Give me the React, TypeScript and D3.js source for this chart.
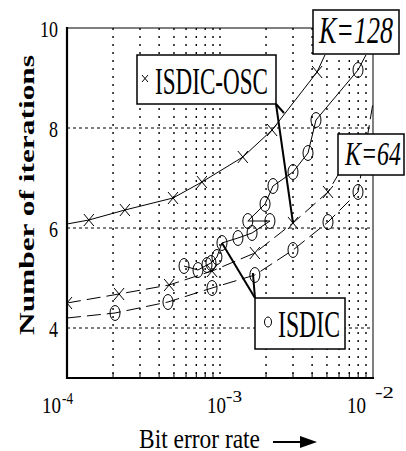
import React from 'react';
import * as d3 from 'd3';

// K=128, ISDIC-OSC (solid line, x markers)
const osc128Ber = [1.0e-4, 1.39e-4, 2.39e-4, 4.93e-4, 7.62e-4, 1.41e-3, 2.19e-3, 4.31e-3, 4.85e-3];
const osc128Iter = [6.08, 6.16, 6.36, 6.6, 6.92, 7.42, 7.96, 9.12, 9.46];
const osc128Unmarked = [0, 8];

// K=128, ISDIC (solid line, circle markers)
const isdic128Ber = [5.82e-4, 7.18e-4, 8.22e-4, 8.73e-4, 9.55e-4, 1.03e-3, 1.31e-3, 1.62e-3, 2.12e-3, 1.52e-3, 1.97e-3, 2.22e-3, 3.0e-3, 3.76e-3, 4.24e-3, 7.98e-3, 8.99e-3];
const isdic128Iter = [5.24, 5.16, 5.26, 5.3, 5.42, 5.7, 5.8, 5.9, 6.14, 6.14, 6.48, 6.84, 7.12, 7.5, 8.16, 9.16, 9.46];
const isdic128Unmarked = [16];

// K=64, ISDIC-OSC (dashed line, x markers)
const osc64Ber = [1.0e-4, 2.19e-4, 4.65e-4, 8.87e-4, 1.69e-3, 3.0e-3, 5.08e-3, 5.9e-3];
const osc64Iter = [4.5, 4.68, 4.86, 5.14, 5.5, 6.1, 6.72, 7.06];
const osc64Unmarked = [7];

// K=64, ISDIC (dashed line, circle markers)
const isdic64Ber = [1.0e-4, 2.06e-4, 4.57e-4, 8.87e-4, 1.69e-3, 3.0e-3, 5.08e-3, 7.98e-3, 1.0e-2];
const isdic64Iter = [4.2, 4.3, 4.52, 4.8, 5.06, 5.56, 6.12, 6.72, 8.5];
const isdic64Unmarked = [0, 8];

const yTicks = [4, 6, 8, 10];
const xTickExp = ['-4', '-3', '-2'];

const FONT = "'Liberation Serif', Tinos, 'Times New Roman', Times, 'DejaVu Serif', serif";

type Pt = [number, number];
const zip = (a: number[], b: number[]): Pt[] => a.map((v, i) => [v, b[i]]);

export default function App() {
  const x = d3.scaleLog().domain([1e-4, 1e-2]).range([67, 373]);
  const y = d3.scaleLinear().domain([3, 10]).range([378, 28]);
  const line = d3.line<Pt>().x(d => x(d[0])).y(d => y(d[1]));

  const minor: number[] = [];
  [-4, -3].forEach(k => {
    for (let m = 2; m <= 9; m++) minor.push(m * Math.pow(10, k));
  });
  const vGrid = [...minor, 1e-3];

  const series = [
    { pts: zip(osc128Ber, osc128Iter), skip: osc128Unmarked, mark: 'x', dash: undefined },
    { pts: zip(isdic128Ber, isdic128Iter), skip: isdic128Unmarked, mark: 'o', dash: undefined },
    { pts: zip(osc64Ber, osc64Iter), skip: osc64Unmarked, mark: 'x', dash: '14,6' },
    { pts: zip(isdic64Ber, isdic64Iter), skip: isdic64Unmarked, mark: 'o', dash: '14,6' },
  ];

  const xLab = [
    { base: -25, exp: -5, expY: 404, w: 11 },
    { base: -13, exp: 6, expY: 402, w: 16 },
    { base: -26, exp: 2, expY: 398, w: 19 },
  ];

  // leader line targets
  const oscTip: Pt = [x(osc64Ber[5]), y(osc64Iter[5])];
  const isdicTip: Pt = [x(isdic128Ber[5]), y(isdic128Iter[5])];
  const isdic64Tip: Pt = [x(isdic64Ber[4]) - 2, y(isdic64Iter[4]) - 2];

  const txt = { fontFamily: FONT };

  return (
    <svg width={406} height={451} style={{ position: 'absolute', left: 0, top: 0, background: '#fff', fontFamily: FONT }}>
      <defs>
        <clipPath id="plot">
          <rect x={67} y={28} width={306} height={350} />
        </clipPath>
      </defs>

      {/* grid */}
      {vGrid.map((v, i) => (
        <line key={'v' + i} x1={x(v)} x2={x(v)} y1={28} y2={378} stroke="#000"
          strokeWidth={1.4} strokeDasharray="2,6" />
      ))}
      {yTicks.filter(t => t < 10).map(t => (
        <line key={'h' + t} x1={67} x2={373} y1={y(t)} y2={y(t)} stroke="#000"
          strokeWidth={1} strokeDasharray="3,3" />
      ))}
      {minor.map((v, i) => (
        <line key={'t' + i} x1={x(v)} x2={x(v)} y1={378} y2={373} stroke="#000" strokeWidth={1} />
      ))}

      {/* frame */}
      <line x1={67} x2={373} y1={28} y2={28} stroke="#000" strokeWidth={1} />
      <line x1={373} x2={373} y1={28} y2={378} stroke="#000" strokeWidth={1} />
      <line x1={67} x2={67} y1={27} y2={379} stroke="#000" strokeWidth={2.2} />
      <line x1={66} x2={374} y1={378} y2={378} stroke="#000" strokeWidth={2.2} />

      {/* curves */}
      <g clipPath="url(#plot)">
        {series.map((s, i) => (
          <g key={i}>
            <path d={line(s.pts) || ''} fill="none" stroke="#000" strokeWidth={1}
              strokeDasharray={s.dash} />
            {s.pts.map((p, j) => {
              if (s.skip.includes(j)) return null;
              const cx = x(p[0]);
              const cy = y(p[1]);
              return s.mark === 'x' ? (
                <path key={j} d={`M${cx - 5},${cy - 6}L${cx + 5},${cy + 6}M${cx - 5},${cy + 6}L${cx + 5},${cy - 6}`}
                  stroke="#000" strokeWidth={1} fill="none" />
              ) : (
                <ellipse key={j} cx={cx} cy={cy} rx={5} ry={7.5} stroke="#000" strokeWidth={1} fill="none" />
              );
            })}
          </g>
        ))}
      </g>

      {/* leader lines */}
      <line x1={276} y1={104} x2={oscTip[0]} y2={oscTip[1]} stroke="#000" strokeWidth={2} />
      <line x1={276} y1={104} x2={284} y2={113} stroke="#000" strokeWidth={2} />
      <line x1={255} y1={298} x2={isdicTip[0]} y2={isdicTip[1]} stroke="#000" strokeWidth={2} />
      <line x1={255} y1={298} x2={isdic64Tip[0]} y2={isdic64Tip[1]} stroke="#000" strokeWidth={2} />

      {/* label boxes */}
      <rect x={137} y={55} width={139} height={49} fill="#fff" stroke="#000" strokeWidth={1.5} />
      <path d="M142,75L148,82M142,82L148,75" stroke="#000" strokeWidth={1} />
      <text style={txt} x={155} y={94} fontSize={38} textLength={113} lengthAdjust="spacingAndGlyphs">ISDIC-OSC</text>

      <rect x={313} y={10} width={86} height={44} fill="#fff" stroke="#000" strokeWidth={1.5} />
      <text style={txt} x={319} y={43} fontSize={37} fontStyle="italic" textLength={74} lengthAdjust="spacingAndGlyphs">K=128</text>

      <rect x={338} y={134} width={66} height={41} fill="#fff" stroke="#000" strokeWidth={1.5} />
      <text style={txt} x={345} y={165} fontSize={34} fontStyle="italic" textLength={56} lengthAdjust="spacingAndGlyphs">K=64</text>

      <rect x={255} y={298} width={90} height={51} fill="#fff" stroke="#000" strokeWidth={1.5} />
      <ellipse cx={268} cy={322} rx={3.5} ry={5} fill="none" stroke="#000" strokeWidth={1} />
      <text style={txt} x={278} y={337} fontSize={38} textLength={62} lengthAdjust="spacingAndGlyphs">ISDIC</text>

      {/* y tick labels */}
      {yTicks.map(t => (
        <text style={txt} key={'yl' + t} x={58} y={y(t) + 8.5} fontSize={23} textAnchor="end"
          textLength={t >= 10 ? 18 : 9} lengthAdjust="spacingAndGlyphs">{t}</text>
      ))}

      {/* x tick labels */}
      {xTickExp.map((e, i) => {
        const tx = x(Math.pow(10, -4 + i));
        const l = xLab[i];
        return (
          <g key={'xl' + i}>
            <text style={txt} x={tx + l.base} y={413} fontSize={23} textLength={19} lengthAdjust="spacingAndGlyphs">10</text>
            <text style={txt} x={tx + l.exp} y={l.expY} fontSize={16} textLength={l.w} lengthAdjust="spacingAndGlyphs">{e}</text>
          </g>
        );
      })}

      {/* axis titles */}
      <text style={txt} transform="translate(34,195) rotate(-90)" textAnchor="middle" fontSize={22} fontWeight="bold"
        textLength={280} lengthAdjust="spacingAndGlyphs">Number of iterations</text>
      <text style={txt} x={139} y={448} fontSize={28} textLength={121} lengthAdjust="spacingAndGlyphs">Bit error rate</text>
      <line x1={273} x2={302} y1={442} y2={442} stroke="#000" strokeWidth={2} />
      <path d="M300,436L317,442L300,448Z" fill="#000" />
    </svg>
  );
}
